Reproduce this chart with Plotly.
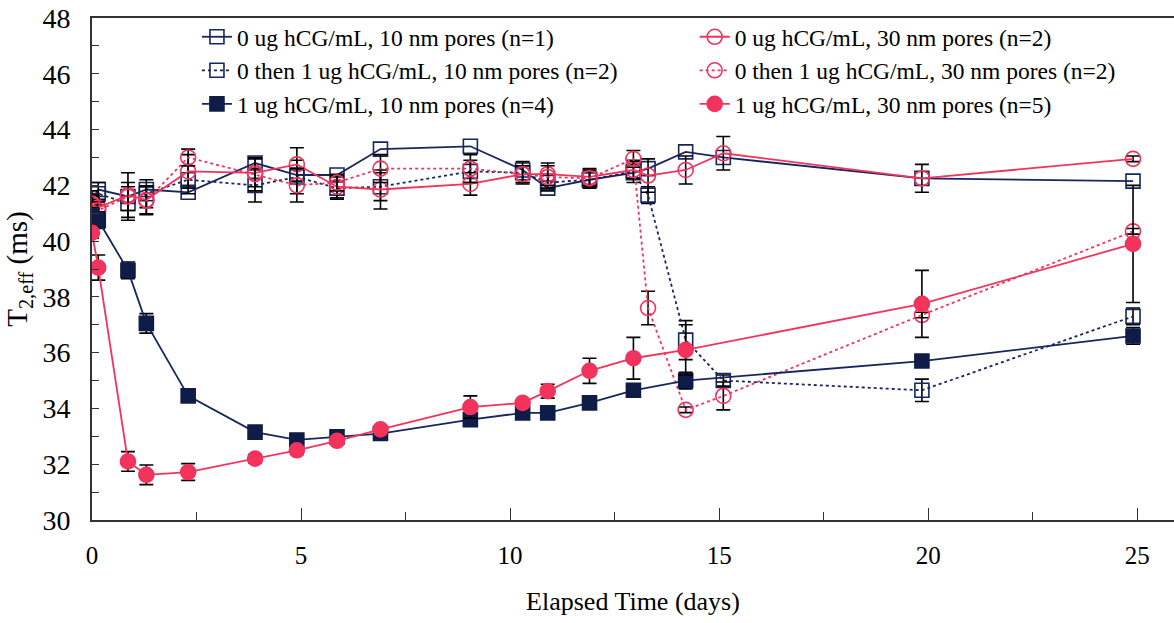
import plotly.graph_objects as go

days = [0, 0.15, 0.86, 1.3, 2.3, 3.9, 4.9, 5.86, 6.9, 9.05, 10.3, 10.9, 11.9, 12.95, 13.3, 14.2, 15.1, 19.85, 24.9]

a_vals = [41.45, 41.85, 41.6, 41.85, 41.75, 42.8, 42.37, 42.37, 43.3, 43.4, 42.55, 41.9, 42.2, 42.45, 42.6, 43.2, 43.0, 42.25, 42.15]
b_vals = [41.4, 41.7, 41.35, 41.7, 42.2, 42.0, 42.3, 41.9, 41.95, 42.5, 42.45, 42.1, 42.2, 42.5, 41.65, 36.45, 35.0, 34.65, 37.3]
c_vals = [41.3, 41.2, 41.65, 41.48, 42.5, 42.45, 42.75, 41.95, 41.85, 42.05, 42.4, 42.4, 42.3, 42.55, 42.35, 42.55, 43.15, 42.25, 42.95]
d_vals = [41.35, 41.1, 41.6, 41.45, 43.0, 42.4, 42.0, 42.1, 42.6, 42.6, 42.4, 42.3, 42.25, 42.95, 37.6, 33.95, 34.45, 37.35, 40.35]
e_vals = [40.9, 40.75, 38.95, 37.05, 34.45, 33.15, 32.87, 32.98, 33.1, 33.6, 33.84, 33.84, 34.2, 34.65, None, 35.0, None, 35.7, 36.6]
f_vals = [40.3, 39.05, 32.1, 31.62, 31.72, 32.2, 32.5, 32.84, 33.25, 34.05, 34.2, 34.62, 35.35, 35.8, None, 36.1, None, 37.75, 39.9]

b_err = [0.4, 0.4, 0.6, 0.5, 0.5, 0.6, 0.6, 0.4, 0.5, 0.4, 0.4, 0.3, 0.3, 0.4, 0.3, 0.7, 0.2, 0.4, 0.3]
c_err = [0.3, 0.3, 0.8, 0.5, 0.6, 0.5, 0.6, 0.4, 0.7, 0.4, 0.3, 0.4, 0.3, 0.3, 0.6, 0.5, 0.6, 0.5, 0.1]
d_err = [0.3, 0.3, 0.5, 0.5, 0.3, 0.6, 0.6, 0.3, 0.5, 0.5, 0.3, 0.4, 0.3, 0.3, 0.6, 0.1, 0.5, 0.1, 0.1]
e_err = [0.3, 0.3, 0.3, 0.35, 0.15, 0.15, 0.1, 0.1, 0.1, 0.15, 0.15, 0.15, 0.1, 0.1, 0, 0.3, 0, 0.15, 0.3]
f_err = [0.2, 0.45, 0.35, 0.35, 0.3, 0.15, 0.15, 0.1, 0.1, 0.4, 0.1, 0.25, 0.45, 0.75, 0, 0.9, 0, 1.2, 2.1]

names = [
    "0 ug hCG/mL, 10 nm pores (n=1)",
    "0 then 1 ug hCG/mL, 10 nm pores (n=2)",
    "1 ug hCG/mL, 10 nm pores (n=4)",
    "0 ug hCG/mL, 30 nm pores (n=2)",
    "0 then 1 ug hCG/mL, 30 nm pores (n=2)",
    "1 ug hCG/mL, 30 nm pores (n=5)",
]

NAVY = "#17275e"
NAVY_F = "#0f1c48"
RED = "#f2335c"
FONT = "Liberation Serif, Times New Roman, serif"

def err(arr):
    if arr is None:
        return dict(visible=False)
    return dict(type="data", array=arr, visible=True, color="black", thickness=1.6, width=7)

fig = go.Figure()

specs = [
    (a_vals, None, names[0], NAVY, "solid", "square-open", NAVY, 14, "legend"),
    (b_vals, b_err, names[1], NAVY, "dot", "square-open", NAVY, 14, "legend"),
    (c_vals, c_err, names[3], RED, "solid", "circle-open", RED, 15, "legend2"),
    (d_vals, d_err, names[4], RED, "dot", "circle-open", RED, 15, "legend2"),
    (e_vals, e_err, names[2], NAVY, "solid", "square", NAVY_F, 14, "legend"),
    (f_vals, f_err, names[5], RED, "solid", "circle", RED, 15, "legend2"),
]

rank = {names[0]: 1, names[1]: 2, names[2]: 3, names[3]: 1, names[4]: 2, names[5]: 3}

for vals, e, nm, lc, dash, sym, mc, ms, lg in specs:
    fig.add_trace(go.Scatter(
        x=days, y=vals, name=nm, mode="lines+markers", connectgaps=True,
        line=dict(color=lc, width=1.8, dash=dash),
        marker=dict(symbol=sym, color=mc, size=ms, line=dict(color=mc, width=1.6)),
        error_y=err(e), legend=lg, legendrank=rank[nm], legendgroup=nm,
    ))

fig.update_layout(
    width=1174, height=623,
    margin=dict(l=92, r=0, t=18, b=103),
    plot_bgcolor="white", paper_bgcolor="white",
    font=dict(family=FONT, color="black"),
    showlegend=True,
    legend=dict(x=0.097, y=1.006, xanchor="left", yanchor="top",
                font=dict(family=FONT, size=23.5), bgcolor="rgba(0,0,0,0)",
                tracegroupgap=8, traceorder="normal"),
    legend2=dict(x=0.557, y=1.006, xanchor="left", yanchor="top",
                 font=dict(family=FONT, size=23.5), bgcolor="rgba(0,0,0,0)",
                 tracegroupgap=8, traceorder="normal"),
)

fig.update_xaxes(
    range=[0, 25.88], showline=True, linecolor="#333333", linewidth=2, mirror=True,
    ticks="inside", ticklen=12, tickwidth=1, tickcolor="#333333",
    tickmode="array", tickvals=[0, 5, 10, 15, 20, 25],
    minor=dict(tickmode="array", tickvals=[2.5, 7.5, 12.5, 17.5, 22.5], ticks="inside", ticklen=8, tickcolor="#333333"),
    showgrid=False, zeroline=False, ticklabelstandoff=12,
    tickfont=dict(family=FONT, size=25),
    title=dict(text="Elapsed Time (days)", font=dict(family=FONT, size=26), standoff=24),
)
fig.update_yaxes(
    range=[30, 48], showline=True, linecolor="#333333", linewidth=2,
    ticks="inside", ticklen=7, tickwidth=1, tickcolor="#333333",
    tickmode="array", tickvals=[30, 32, 34, 36, 38, 40, 42, 44, 46, 48],
    minor=dict(tickmode="array", tickvals=[31, 33, 35, 37, 39, 41, 43, 45, 47], ticks="inside", ticklen=7, tickcolor="#333333"),
    showgrid=False, zeroline=False, ticklabelstandoff=14,
    tickfont=dict(family=FONT, size=28),
    title=dict(text="T<sub>2,eff</sub> (ms)", font=dict(family=FONT, size=29), standoff=6),
)

fig.write_html("out.html")
